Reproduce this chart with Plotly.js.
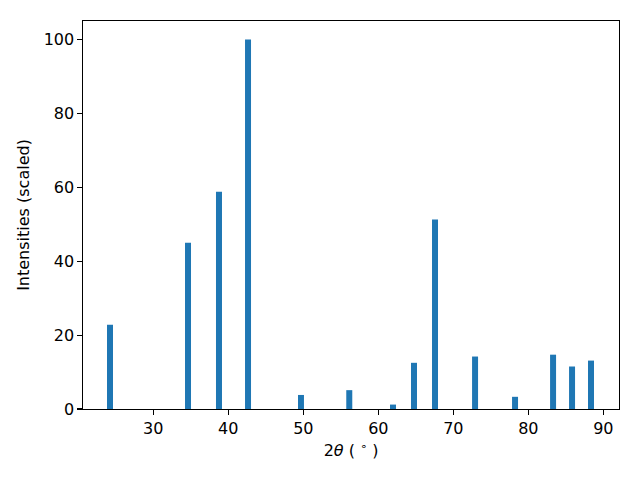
<!DOCTYPE html>
<html>
<head>
<meta charset="utf-8">
<script src="https://cdn.plot.ly/plotly-3.0.1.min.js"></script>
<style>html,body{margin:0;padding:0;background:#fff;}#chart{width:640px;height:480px;}</style>
</head>
<body>
<div id="chart"></div>
<script>
const twoTheta = [24.23, 34.63, 38.76, 42.63, 49.69, 56.13, 61.96, 64.76, 67.56, 72.9, 78.23, 83.3, 85.83, 88.36];
const intensities = [22.8, 45.0, 58.8, 100, 3.8, 5.1, 1.2, 12.5, 51.3, 14.2, 3.3, 14.7, 11.5, 13.1];
const xTicks = [30, 40, 50, 60, 70, 80, 90];
const yTicks = [0, 20, 40, 60, 80, 100];

const font = {family: 'DejaVu Sans, sans-serif', size: 16, color: '#000'};
const axisCommon = {
  showline: true, linecolor: '#000', linewidth: 1.1, mirror: true,
  ticks: 'outside', ticklen: 4.5, tickwidth: 1.1, tickcolor: '#000',
  showgrid: false, zeroline: false, tickfont: font
};

Plotly.newPlot('chart', [{
  type: 'bar', x: twoTheta, y: intensities, width: 0.8,
  marker: {color: '#1f77b4', line: {width: 0}}
}], {
  width: 640, height: 480,
  margin: {l: 83, r: 21, t: 21, b: 71},
  paper_bgcolor: '#fff', plot_bgcolor: '#fff',
  font: font, showlegend: false,
  xaxis: Object.assign({}, axisCommon, {
    range: [20.63, 92.09], tickvals: xTicks, ticktext: xTicks.map(String),
    title: {text: '2<i>θ</i> ( <sup>∘</sup> )', font: font, standoff: 8}
  }),
  yaxis: Object.assign({}, axisCommon, {
    range: [0, 105], tickvals: yTicks, ticktext: yTicks.map(String),
    title: {text: 'Intensities (scaled)', font: font, standoff: 10}
  })
}, {displayModeBar: false, staticPlot: true});
</script>
</body>
</html>
